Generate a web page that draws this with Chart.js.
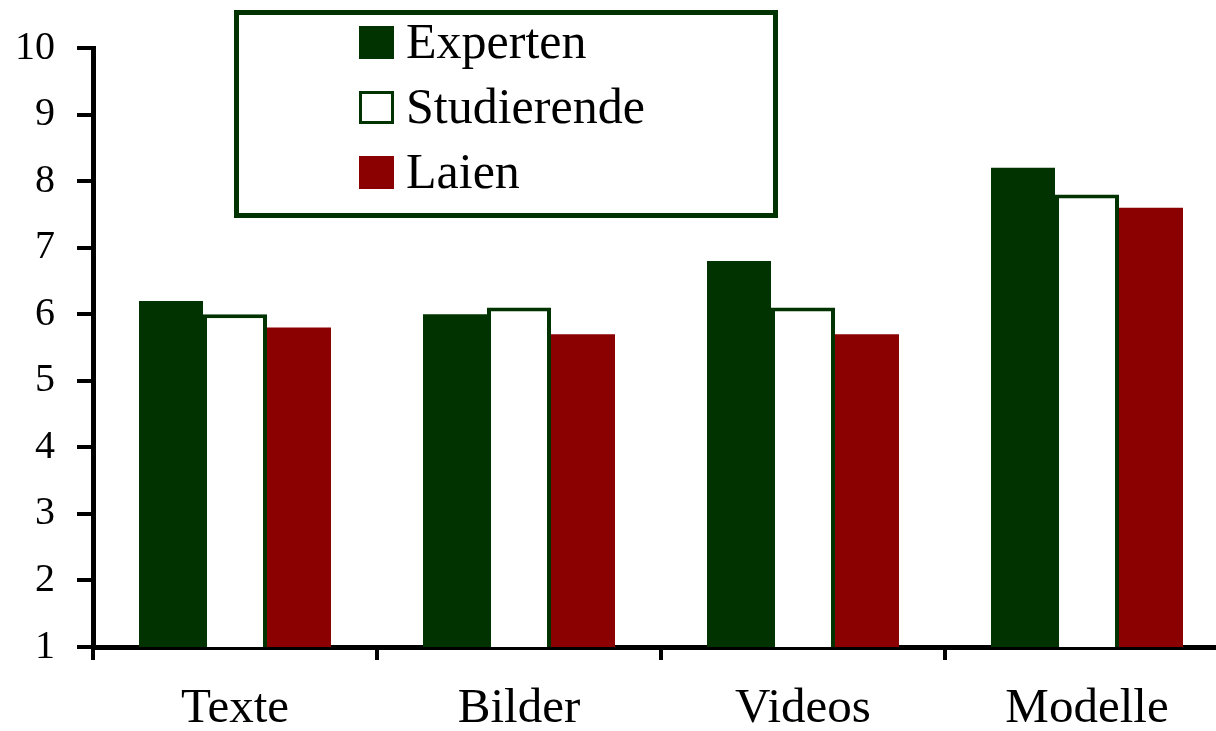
<!DOCTYPE html>
<html>
<head>
<meta charset="utf-8">
<script src="https://cdn.jsdelivr.net/npm/chart.js@4/dist/chart.umd.min.js"></script>
<style>
  html, body { margin: 0; padding: 0; background: #fff; overflow: hidden; }
  #wrap { width: 1232px; height: 731px; position: relative; }
</style>
</head>
<body>
<div id="wrap"><canvas id="c"></canvas></div>
<script>
const categories = ['Texte', 'Bilder', 'Videos', 'Modelle'];
const seriesNames = ['Experten', 'Studierende', 'Laien'];
const experten = [6.2, 6.0, 6.8, 8.2];
const studierende = [6.0, 6.1, 6.1, 7.8];
const laien = [5.8, 5.7, 5.7, 7.6];
const yTicks = [1, 2, 3, 4, 5, 6, 7, 8, 9, 10];

const GREEN = '#003300';
const RED = '#8b0000';
const FONT = "'Liberation Serif', 'Times New Roman', serif";

const boxLegend = {
  id: 'boxLegend',
  afterDraw(chart) {
    const ctx = chart.ctx;
    ctx.save();
    ctx.lineWidth = 5;
    ctx.strokeStyle = GREEN;
    ctx.strokeRect(236.5, 12.5, 539, 203);
    const rows = [42.5, 107.5, 172.5];
    chart.data.datasets.forEach((ds, i) => {
      const cy = rows[i];
      const x = 359, w = 35, h = 33;
      ctx.fillStyle = ds.backgroundColor;
      ctx.fillRect(x, cy - h / 2, w, h);
      if (ds.borderWidth) {
        ctx.lineWidth = 3;
        ctx.strokeStyle = ds.borderColor;
        ctx.strokeRect(x + 1.5, cy - h / 2 + 1.5, w - 3, h - 3);
      }
      ctx.fillStyle = '#000';
      ctx.font = '50px ' + FONT;
      ctx.textBaseline = 'middle';
      ctx.textAlign = 'left';
      ctx.fillText(ds.label, 406, cy + 2);
    });
    ctx.restore();
  }
};

new Chart(document.getElementById('c'), {
  type: 'bar',
  data: {
    labels: categories,
    datasets: [
      { label: seriesNames[0], data: experten, backgroundColor: GREEN, borderWidth: 0 },
      { label: seriesNames[1], data: studierende, backgroundColor: '#ffffff', borderColor: GREEN, borderWidth: 4 },
      { label: seriesNames[2], data: laien, backgroundColor: RED, borderWidth: 0 }
    ]
  },
  options: {
    responsive: true,
    maintainAspectRatio: false,
    animation: false,
    layout: { padding: { top: 48, right: 3, left: 0, bottom: 0 } },
    datasets: { bar: { categoryPercentage: 0.676, barPercentage: 1.0 } },
    plugins: { legend: { display: false }, tooltip: { enabled: false } },
    scales: {
      x: {
        offset: true,
        grid: { offset: true, drawOnChartArea: false, drawTicks: true, tickLength: 13, color: '#000', lineWidth: 4 },
        border: { display: true, color: '#000', width: 5 },
        ticks: { font: { family: FONT, size: 49 }, color: '#000', padding: 20 },
        afterFit(scale) { scale.height = 84; }
      },
      y: {
        min: yTicks[0],
        max: yTicks[yTicks.length - 1],
        afterBuildTicks(scale) { scale.ticks = yTicks.map(v => ({ value: v })); },
        grid: { drawOnChartArea: false, drawTicks: true, tickLength: 16, color: '#000', lineWidth: 4 },
        border: { display: true, color: '#000', width: 5 },
        ticks: { font: { family: FONT, size: 40 }, color: '#000', padding: 22 },
        afterFit(scale) { scale.width = 93; }
      }
    }
  },
  plugins: [boxLegend]
});
</script>
</body>
</html>
